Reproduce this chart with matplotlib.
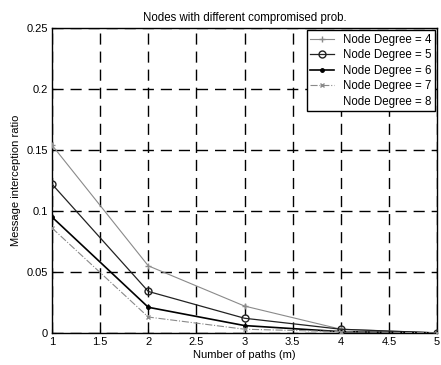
import matplotlib
matplotlib.use("Agg")
import matplotlib.pyplot as plt
import numpy as np

plt.rcParams['font.family'] = ['Liberation Sans', 'DejaVu Sans']

paths = [1, 2, 3, 4, 5]
deg4 = [0.154, 0.055, 0.022, 0.003, 0.0]
deg5 = [0.122, 0.034, 0.012, 0.003, 0.0]
deg6 = [0.095, 0.021, 0.006, 0.001, 0.0]
deg7 = [0.086, 0.013, 0.003, 0.001, 0.0]
deg8 = [0.075, 0.010, 0.002, 0.0005, 0.0]
labels = ["Node Degree = 4", "Node Degree = 5", "Node Degree = 6",
          "Node Degree = 7", "Node Degree = 8"]
xticks = [1, 1.5, 2, 2.5, 3, 3.5, 4, 4.5, 5]
xticklabels = ["1", "1.5", "2", "2.5", "3", "3.5", "4", "4.5", "5"]
yticks = [0, 0.05, 0.1, 0.15, 0.2, 0.25]
yticklabels = ["0", "0.05", "0.1", "0.15", "0.2", "0.25"]

fig = plt.figure(figsize=(4.41, 3.65), dpi=100)
ax = fig.add_axes([0.118, 0.088, 0.873, 0.835])

ax.plot(paths, deg8, color='#ffffff', lw=0.6, label=labels[4], zorder=0.5)
ax.plot(paths, deg4, color='#8a8a8a', lw=0.8, marker='+', ms=4, label=labels[0], zorder=3)
ax.plot(paths, deg5, color='#222222', lw=0.9, marker='o', ms=5, mfc='none', label=labels[1], zorder=3)
ax.plot(paths, deg6, color='#000000', lw=1.2, marker='.', ms=5, label=labels[2], zorder=3)
ax.plot(paths, deg7, color='#8a8a8a', lw=0.8, ls='-.', marker='x', ms=3, label=labels[3], zorder=3)

ax.set_xlim(1, 5)
ax.set_ylim(0, 0.25)
ax.set_xticks(xticks)
ax.set_xticklabels(xticklabels)
ax.set_yticks(yticks)
ax.set_yticklabels(yticklabels)
ax.tick_params(direction='in', labelsize=8, length=3, width=0.8, pad=3)
ax.grid(True, color='black', linestyle=(0, (8, 5)), linewidth=1.0)
for s in ax.spines.values():
    s.set_linewidth(1.0)
    s.set_color('black')

ax.set_title("Nodes with different compromised prob.", fontsize=8.3, pad=5)
ax.set_xlabel("Number of paths (m)", fontsize=8, labelpad=2)
ax.set_ylabel("Message interception ratio", fontsize=8, labelpad=4)

h, l = ax.get_legend_handles_labels()
order = [1, 2, 3, 4, 0]
leg = ax.legend([h[i] for i in order], [l[i] for i in order], loc='upper right',
                fontsize=8.3, frameon=True, fancybox=False, edgecolor='black',
                framealpha=1.0, handlelength=2.0, borderaxespad=0.2,
                labelspacing=0.3, borderpad=0.3)
leg.get_frame().set_linewidth(1.0)

fig.savefig("out.png", dpi=100)
